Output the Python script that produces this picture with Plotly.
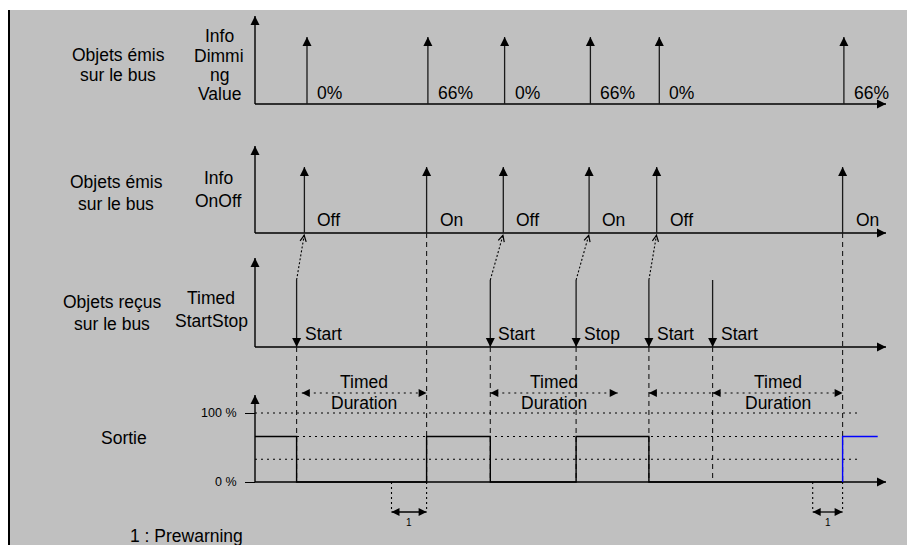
import math
import plotly.graph_objects as go

# ---------------- data (time axis in s) ----------------
dim_t = [4.0, 13.3, 19.2, 25.8, 31.1, 45.3]
dim_labels = ["0%", "66%", "0%", "66%", "0%", "66%"]
onoff_t = [3.8, 13.2, 19.1, 25.7, 30.9, 45.2]
onoff_labels = ["Off", "On", "Off", "On", "Off", "On"]
cmd_t = [3.2, 18.1, 24.7, 30.3, 35.2]
cmd_labels = ["Start", "Start", "Stop", "Start", "Start"]
cmd_response = [0, 2, 3, 4, None]          # index of the OnOff object sent back
duration_end_t = [13.2, 45.2]
out_t = [0.0, 3.2, 13.2, 18.1, 24.7, 30.3, 45.2]
out_pct = [66, 0, 66, 0, 66, 0, 0]
out_new_t = [45.2, 45.2, 47.9]
out_new_pct = [0, 66, 66]
level_pct = [100, 66, 33]
tick_pct = [0, 100]
tick_text = ["0 %", "100 %"]
timed_from = [3.6, 18.1, 30.3, 35.2]
timed_to = [13.2, 27.9, 35.2, 45.2]
timed_complete = [True, True, False, True]
prewarn_from = [10.5, 42.9]
prewarn_to = [13.2, 45.2]

# ---------------- layout constants (page pixels) ----------------
PAGE_W, PAGE_H = 915, 545
BODY = 8                       # default page margin around the figure
W, H = PAGE_W - BODY, PAGE_H - BODY
LEFT, TOP = 10, 10             # page pixel where the grey panel starts
X0 = 255                       # page pixel of t = 0
PX_T = 13.0                    # pixels per second


def t_of(px):
    return (px - X0) / PX_T


R1_BASE, R1_TOP, R1_PULSE = 104, 16, 37
R2_BASE, R2_TOP, R2_PULSE = 233, 146, 167
R3_BASE, R3_TOP, R3_CMD = 347, 258, 280
OUT_BASE, OUT_TOP = 482, 395
PX_PCT = 0.69
AXIS_END = t_of(886)
LEVEL_END = t_of(861)
TIMED_Y = 393
PREWARN_Y = 512
BG = "#c0c0c0"
FONT = "Liberation Sans, Arial, sans-serif"
TS = 17.5

fig = go.Figure()


def add_lines(pairs, color="black", width=1.3, dash="solid", yaxis="y"):
    xs, ys = [], []
    for x0, y0, x1, y1 in pairs:
        xs += [x0, x1, None]
        ys += [y0, y1, None]
    fig.add_trace(go.Scatter(x=xs, y=ys, mode="lines", yaxis=yaxis,
                             line=dict(color=color, width=width, dash=dash),
                             hoverinfo="skip", showlegend=False))


def add_heads(xs, ys, symbol, size=9, color="black"):
    fig.add_trace(go.Scatter(x=xs, y=ys, mode="markers",
                             marker=dict(symbol=symbol, size=size, color=color,
                                         line=dict(width=0)),
                             hoverinfo="skip", showlegend=False))


def text(px, py, s, size=TS, xanchor="center"):
    fig.add_annotation(x=t_of(px), y=py, xref="x", yref="y", text=s,
                       showarrow=False, xanchor=xanchor, yanchor="middle",
                       font=dict(family=FONT, size=size, color="black"))


# ---- row axes ----
axes_rows = [(R1_BASE, R1_TOP), (R2_BASE, R2_TOP), (R3_BASE, R3_TOP), (OUT_BASE, OUT_TOP)]
add_lines([(0, b, 0, t) for b, t in axes_rows] + [(0, b, AXIS_END, b) for b, t in axes_rows],
          width=1.4)
add_heads([0] * 4, [t for b, t in axes_rows], "arrow-up", 9)
add_heads([AXIS_END] * 4, [b for b, t in axes_rows], "arrow-right", 9)

# ---- dimming value pulses ----
add_lines([(t, R1_BASE, t, R1_PULSE) for t in dim_t], color="#1a1a1a")
add_heads(dim_t, [R1_PULSE] * len(dim_t), "arrow-up", 9)
for t, s in zip(dim_t, dim_labels):
    text(X0 + t * PX_T + 8, 93, s, xanchor="left")

# ---- on/off pulses ----
add_lines([(t, R2_BASE, t, R2_PULSE) for t in onoff_t], color="#1a1a1a")
add_heads(onoff_t, [R2_PULSE] * len(onoff_t), "arrow-up", 9)
for t, s in zip(onoff_t, onoff_labels):
    text(X0 + t * PX_T + 11, 220, s, xanchor="left")

# ---- received start/stop commands ----
add_lines([(t, R3_CMD, t, R3_BASE) for t in cmd_t], color="#1a1a1a")
add_heads(cmd_t, [R3_BASE] * len(cmd_t), "arrow-down", 9)
for t, s in zip(cmd_t, cmd_labels):
    text(X0 + t * PX_T + 6, 334, s, xanchor="left")

# ---- dotted links command -> on/off object, with open arrowheads ----
links = []
for t, k in zip(cmd_t, cmd_response):
    if k is None:
        continue
    t2 = onoff_t[k]
    links.append((t, R3_CMD, t2, R2_BASE + 1))
    dxp, dyp = (t2 - t) * PX_T, (R2_BASE + 1) - R3_CMD
    n = math.hypot(dxp, dyp)
    fig.add_annotation(x=t2, y=R2_BASE + 1, ax=t2 - 4 * dxp / n / PX_T, ay=R2_BASE + 1 - 4 * dyp / n,
                       xref="x", yref="y", axref="x", ayref="y", text="", showarrow=True,
                       arrowhead=5, arrowsize=1.1, arrowwidth=1.1, arrowcolor="black")
add_lines(links, width=1.1, dash="2px,2px")

# ---- dashed vertical guides ----
add_lines([(t, R3_BASE, t, OUT_BASE) for t in cmd_t] +
          [(t, R2_BASE, t, OUT_BASE) for t in duration_end_t],
          color="#1a1a1a", width=1.1, dash="5px,4px")

# ---- output levels (dotted) ----
add_lines([(0, p, LEVEL_END, p) for p in level_pct], width=1.1, dash="2px,4px", yaxis="y2")

# ---- output signal ----
fig.add_trace(go.Scatter(x=out_t, y=out_pct, mode="lines", line_shape="hv", yaxis="y2",
                         line=dict(color="black", width=1.4), hoverinfo="skip", showlegend=False))
fig.add_trace(go.Scatter(x=out_new_t, y=out_new_pct, mode="lines", yaxis="y2",
                         line=dict(color="#0000ff", width=1.4), hoverinfo="skip", showlegend=False))

# ---- timed duration arrows ----
add_lines([(a, TIMED_Y, b, TIMED_Y) for a, b in zip(timed_from, timed_to)],
          width=1.1, dash="2px,4px")
add_heads(timed_from, [TIMED_Y] * len(timed_from), "arrow-left", 8)
rt = [b for b, c in zip(timed_to, timed_complete) if c]
add_heads(rt, [TIMED_Y] * len(rt), "arrow-right", 8)
for a, b, c in zip(timed_from, timed_to, timed_complete):
    if c:
        mid = X0 + (a + b) / 2 * PX_T
        text(mid, 382, "Timed")
        text(mid, 403, "Duration")

# ---- prewarning ----
add_lines([(t, OUT_BASE, t, PREWARN_Y) for t in prewarn_from + prewarn_to],
          width=1.1, dash="2px,3px")
add_lines([(a, PREWARN_Y, b, PREWARN_Y) for a, b in zip(prewarn_from, prewarn_to)], width=1.3)
add_heads(prewarn_from, [PREWARN_Y] * len(prewarn_from), "arrow-left", 8)
add_heads(prewarn_to, [PREWARN_Y] * len(prewarn_to), "arrow-right", 8)
for a, b in zip(prewarn_from, prewarn_to):
    text(X0 + (a + b) / 2 * PX_T, 522, "1", size=10)

# ---- row titles ----
for lines, cx, ys in [
    (["Objets émis", "sur le bus"], 118, [55, 75]),
    (["Objets émis", "sur le bus"], 116, [182, 204]),
    (["Objets reçus", "sur le bus"], 112, [302, 324]),
    (["Sortie"], 124, [438]),
    (["Info", "Dimmi", "ng", "Value"], 219, [36, 56, 75, 94]),
    (["Info", "OnOff"], 218, [178, 201]),
    (["Timed", "StartStop"], 211, [298, 321]),
]:
    for s, y in zip(lines, ys):
        text(cx, y, s)
text(128, 536, "1 : Prewarning", xanchor="left")

fig.update_layout(
    width=W, height=H,
    margin=dict(l=LEFT - BODY, r=0, t=TOP - BODY, b=0, pad=0),
    paper_bgcolor="white", plot_bgcolor=BG,
    showlegend=False,
    xaxis=dict(range=[t_of(LEFT), t_of(PAGE_W)], visible=False, fixedrange=True),
    yaxis=dict(range=[PAGE_H, TOP], showline=True, linecolor="black", linewidth=2,
               showgrid=False, zeroline=False, showticklabels=False, ticks="",
               fixedrange=True),
    yaxis2=dict(range=[(OUT_BASE - PAGE_H) / PX_PCT, (OUT_BASE - TOP) / PX_PCT],
                overlaying="y", anchor="free", position=(X0 - LEFT) / (PAGE_W - LEFT), side="left",
                showgrid=False, zeroline=False, showline=False,
                tickvals=tick_pct, ticktext=tick_text, ticks="outside", ticklen=10,
                tickwidth=1.3, tickcolor="black", ticklabelstandoff=6,
                tickfont=dict(family=FONT, size=12.5, color="black"), fixedrange=True),
)

fig.write_html("out.html")
